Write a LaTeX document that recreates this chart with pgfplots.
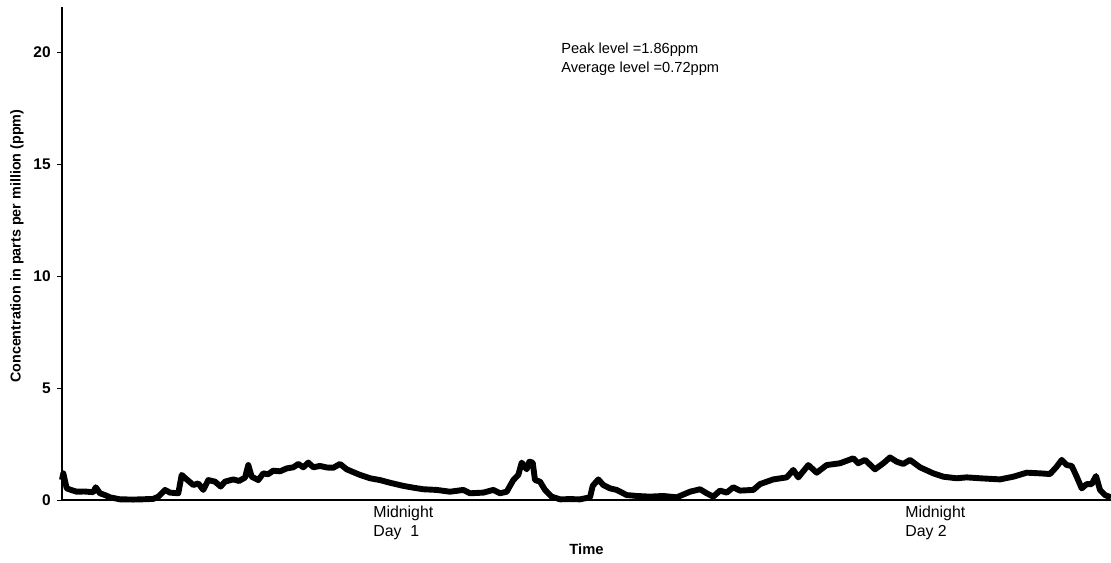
\documentclass[border=0pt]{standalone}
\usepackage{pgfplots}
\pgfplotsset{compat=1.18}
\usepackage{fontspec}
\setmainfont{Liberation Sans}

\pgfplotstableread{
x y
0 0.9
1.3 1.19
4.7 0.52
9 0.45
14.7 0.37
22 0.38
31.3 0.35
33.7 0.57
38 0.30
43 0.22
48 0.12
58 0.03
71.3 0.02
80 0.03
91.3 0.05
96.3 0.15
103 0.45
108 0.33
116.3 0.30
119.7 1.12
124.7 0.92
131.3 0.67
136.3 0.74
141.3 0.45
146.3 0.89
153 0.82
158.7 0.60
163 0.82
171.3 0.92
177 0.85
183 1.0
186.3 1.56
189.7 1.04
196.3 0.89
201.3 1.19
206 1.15
211.3 1.31
218 1.28
224.7 1.41
231.3 1.46
236.3 1.61
241.3 1.46
246.3 1.67
251.3 1.46
258 1.52
265 1.45
271.3 1.44
278 1.61
284.7 1.37
291 1.25
298 1.12
308 0.97
318 0.89
328 0.77
341.3 0.63
351.3 0.55
361.3 0.48
374.7 0.45
388 0.37
401.3 0.45
408 0.30
421.3 0.33
431.3 0.45
438 0.30
444.7 0.37
451.3 0.89
456.3 1.12
459.7 1.67
464.7 1.37
467.3 1.71
470.7 1.67
473 0.89
478 0.82
483 0.45
489.7 0.15
498 0.03
508 0.04
518 0.03
528 0.12
530.7 0.63
536.3 0.92
541.3 0.67
548 0.52
554.7 0.45
564.7 0.22
574.7 0.18
588 0.15
601.3 0.18
614.7 0.12
628 0.37
638 0.48
644.7 0.30
651.3 0.15
658 0.42
664.7 0.33
671.3 0.57
678 0.42
691.3 0.45
698 0.71
711.3 0.92
724.7 1.01
731.3 1.34
736.3 1.01
746.3 1.56
754.7 1.22
764.7 1.56
778 1.64
791.3 1.86
796.3 1.64
803 1.79
813 1.37
821.3 1.64
828 1.9
834.7 1.71
841.3 1.61
848 1.79
858 1.46
871.3 1.19
881.3 1.04
894.7 0.97
904.7 1.01
918 0.97
938 0.92
951.3 1.04
964.7 1.22
978 1.19
988 1.16
994.7 1.49
999.7 1.79
1004.7 1.56
1009.7 1.52
1014.7 1.04
1019.7 0.52
1024.7 0.71
1029.7 0.71
1034 1.07
1038 0.45
1043 0.22
1049 0.12
}\conc

\begin{document}
\begin{tikzpicture}
\path[use as bounding box] (-15.5mm,-15.5mm) rectangle (262.25mm,125mm);
\begin{axis}[
  scale only axis,
  width=262.25mm, height=123.2mm,
  xmin=0, xmax=1049,
  ymin=0, ymax=22,
  axis lines=left,
  axis line style={-, line width=1.3pt},
  x axis line style={line width=0.8pt},
  xtick=\empty,
  ytick={0,5,10,15,20},
  tick align=outside,
  major tick length=1.3mm,
  tick style={line width=0.6pt, black},
  tick label style={font=\bfseries\fontsize{11}{13}\selectfont},
  yticklabel style={xshift=-0.3mm},
  /pgf/number format/assume math mode=true,
  xlabel={\textbf{Time}},
  xlabel style={at={(axis description cs:0.5,-0.0995)}, anchor=center, font=\fontsize{10.5}{12}\selectfont},
  ylabel={\textbf{Concentration in parts per million (ppm)}},
  ylabel style={at={(axis description cs:-0.0429,0.515)}, anchor=center, font=\fontsize{10.2}{12}\selectfont},
  clip=false,
]
\addplot[black, line width=4.2pt, line join=round] table[x=x, y=y] {\conc};
\node[anchor=north west, align=left, font=\fontsize{11.3}{13.5}\selectfont, inner sep=0pt]
  at (axis cs:311,-0.25) {Midnight\\Day\ \ 1};
\node[anchor=north west, align=left, font=\fontsize{11.3}{13.5}\selectfont, inner sep=0pt]
  at (axis cs:843,-0.25) {Midnight\\Day 2};
\node[anchor=north west, align=left, font=\fontsize{10.4}{13}\selectfont, inner sep=0pt]
  at (axis cs:499,20.4) {Peak level =1.86ppm\\Average level =0.72ppm};
\end{axis}
\end{tikzpicture}
\end{document}
